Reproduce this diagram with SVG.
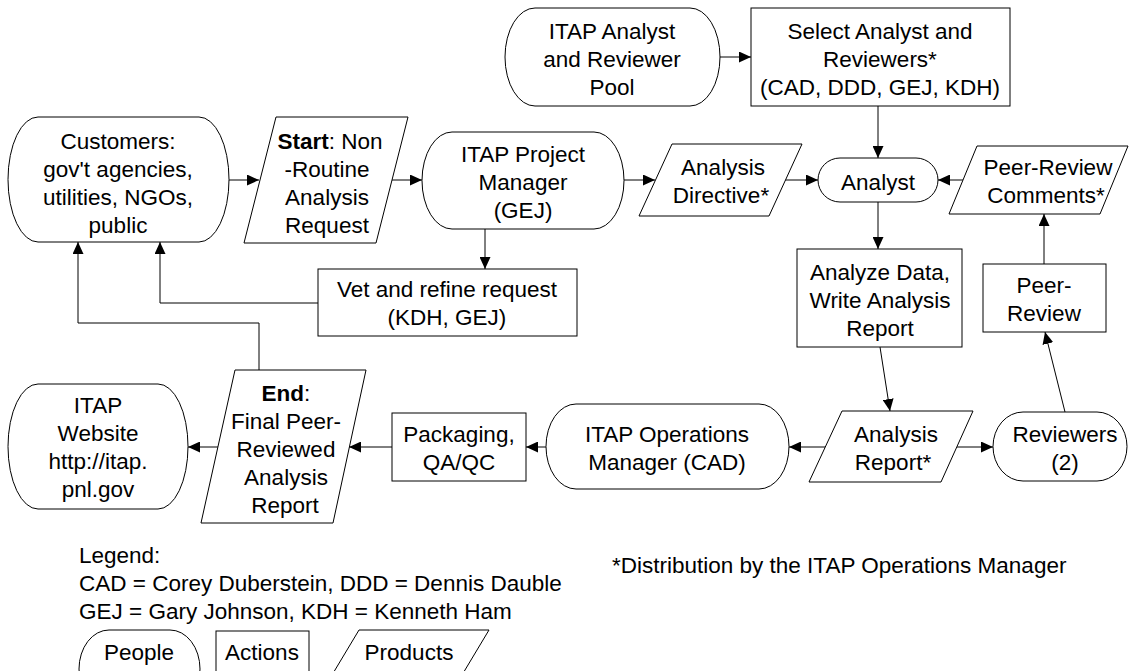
<svg xmlns="http://www.w3.org/2000/svg" width="1130" height="671" viewBox="0 0 1130 671">
<style>
.s{fill:#fff;stroke:#000;stroke-width:1}
.t{font-family:"Liberation Sans",Arial,sans-serif;font-size:22.5px;fill:#000;text-anchor:middle}
.l{font-family:"Liberation Sans",Arial,sans-serif;font-size:22.5px;fill:#000}
.c{fill:none;stroke:#000;stroke-width:1}
</style>
<defs>
<marker id="a" markerUnits="userSpaceOnUse" markerWidth="12" markerHeight="11" refX="12" refY="5.5" orient="auto">
<path d="M0,0 L12,5.5 L0,11 z" fill="#000"/>
</marker>
</defs>
<rect width="1130" height="671" fill="#fff"/>
<g id="connectors">
<path class="c" d="M229,180 H259" marker-end="url(#a)"/>
<path class="c" d="M392,180 H422" marker-end="url(#a)"/>
<path class="c" d="M485,229 V269" marker-end="url(#a)"/>
<path class="c" d="M318,303 H160 V242" marker-end="url(#a)"/>
<path class="c" d="M259,370 V323 H78 V242" marker-end="url(#a)"/>
<path class="c" d="M720,57 H751" marker-end="url(#a)"/>
<path class="c" d="M878,106 V158" marker-end="url(#a)"/>
<path class="c" d="M624,180 H655" marker-end="url(#a)"/>
<path class="c" d="M785,180 H818" marker-end="url(#a)"/>
<path class="c" d="M963,180 H938" marker-end="url(#a)"/>
<path class="c" d="M878,202 V249" marker-end="url(#a)"/>
<path class="c" d="M1044,264 V214" marker-end="url(#a)"/>
<path class="c" d="M880,347 L890,411" marker-end="url(#a)"/>
<path class="c" d="M1065,412 L1045,332" marker-end="url(#a)"/>
<path class="c" d="M957,447 H993" marker-end="url(#a)"/>
<path class="c" d="M825,447 H789" marker-end="url(#a)"/>
<path class="c" d="M546,447 H526" marker-end="url(#a)"/>
<path class="c" d="M392,447 H349" marker-end="url(#a)"/>
<path class="c" d="M218,447 H188" marker-end="url(#a)"/>
</g>
<g id="customers">
<rect class="s" x="8" y="117" width="221" height="125" rx="30" ry="62.5"/>
<text class="t" x="118" y="149">Customers:</text>
<text class="t" x="118" y="177">gov't agencies,</text>
<text class="t" x="118" y="205">utilities, NGOs,</text>
<text class="t" x="118" y="233">public</text>
</g>
<g id="start">
<polygon class="s" points="276,117 408,117 376,243 244,243"/>
<text class="t" x="330" y="149"><tspan font-weight="bold">Start</tspan>: Non</text>
<text class="t" x="327" y="177">-Routine</text>
<text class="t" x="327" y="205">Analysis</text>
<text class="t" x="327" y="233">Request</text>
</g>
<g id="pm">
<rect class="s" x="422" y="132" width="202" height="97" rx="30" ry="48.5"/>
<text class="t" x="523" y="162">ITAP Project</text>
<text class="t" x="523" y="190">Manager</text>
<text class="t" x="523" y="218">(GEJ)</text>
</g>
<g id="pool">
<rect class="s" x="505" y="8" width="215" height="98" rx="30" ry="49"/>
<text class="t" x="612" y="39">ITAP Analyst</text>
<text class="t" x="612" y="67">and Reviewer</text>
<text class="t" x="612" y="95">Pool</text>
</g>
<g id="select">
<rect class="s" x="751" y="8" width="259" height="98"/>
<text class="t" x="880" y="39">Select Analyst and</text>
<text class="t" x="880" y="67">Reviewers*</text>
<text class="t" x="880" y="95">(CAD, DDD, GEJ, KDH)</text>
</g>
<g id="directive">
<polygon class="s" points="672,144 802,144 769,216 639,216"/>
<text class="t" x="723" y="175">Analysis</text>
<text class="t" x="721" y="203">Directive*</text>
</g>
<g id="analyst">
<rect class="s" x="818" y="158" width="120" height="44" rx="22" ry="22"/>
<text class="t" x="878" y="190">Analyst</text>
</g>
<g id="comments">
<polygon class="s" points="977,146 1128,146 1100,214 949,214"/>
<text class="t" x="1048" y="175">Peer-Review</text>
<text class="t" x="1046" y="203">Comments*</text>
</g>
<g id="vet">
<rect class="s" x="318" y="269" width="259" height="67"/>
<text class="t" x="447" y="297">Vet and refine request</text>
<text class="t" x="447" y="325">(KDH, GEJ)</text>
</g>
<g id="analyze">
<rect class="s" x="797" y="249" width="165" height="98"/>
<text class="t" x="880" y="280">Analyze Data,</text>
<text class="t" x="880" y="308">Write Analysis</text>
<text class="t" x="880" y="336">Report</text>
</g>
<g id="peerreview">
<rect class="s" x="983" y="264" width="123" height="68"/>
<text class="t" x="1044" y="293">Peer-</text>
<text class="t" x="1044" y="321">Review</text>
</g>
<g id="report">
<polygon class="s" points="842,411 973,411 941,482 809,482"/>
<text class="t" x="896" y="442">Analysis</text>
<text class="t" x="893" y="470">Report*</text>
</g>
<g id="reviewers">
<rect class="s" x="993" y="412" width="134" height="69" rx="30" ry="34.5"/>
<text class="t" x="1065" y="442">Reviewers</text>
<text class="t" x="1065" y="470">(2)</text>
</g>
<g id="ops">
<rect class="s" x="546" y="404" width="243" height="85" rx="30" ry="42.5"/>
<text class="t" x="667" y="442">ITAP Operations</text>
<text class="t" x="667" y="470">Manager (CAD)</text>
</g>
<g id="packaging">
<rect class="s" x="392" y="413" width="134" height="68"/>
<text class="t" x="459" y="442">Packaging,</text>
<text class="t" x="459" y="470">QA/QC</text>
</g>
<g id="end">
<polygon class="s" points="235,370 366,370 333,523 201,523"/>
<text class="t" x="286" y="401"><tspan font-weight="bold">End</tspan>:</text>
<text class="t" x="286" y="429">Final Peer-</text>
<text class="t" x="286" y="457">Reviewed</text>
<text class="t" x="286" y="485">Analysis</text>
<text class="t" x="285" y="513">Report</text>
</g>
<g id="website">
<rect class="s" x="8" y="384" width="180" height="125" rx="30" ry="62.5"/>
<text class="t" x="98" y="413">ITAP</text>
<text class="t" x="98" y="441">Website</text>
<text class="t" x="98" y="469">http://itap.</text>
<text class="t" x="98" y="497">pnl.gov</text>
</g>
<g id="footnote">
<text class="l" x="612" y="573">*Distribution by the ITAP Operations Manager</text>
</g>
<g id="legend">
<text class="l" x="79" y="563">Legend:</text>
<text class="l" x="79" y="591">CAD = Corey Duberstein, DDD = Dennis Dauble</text>
<text class="l" x="79" y="619">GEJ = Gary Johnson, KDH = Kenneth Ham</text>
<rect class="s" x="79" y="630" width="121" height="78" rx="30" ry="39"/>
<text class="t" x="139" y="660">People</text>
<rect class="s" x="216" y="631" width="93" height="60"/>
<text class="t" x="262" y="660">Actions</text>
<polygon class="s" points="359,630 489,630 447,700 317,700"/>
<text class="t" x="409" y="660">Products</text>
</g>
</svg>
